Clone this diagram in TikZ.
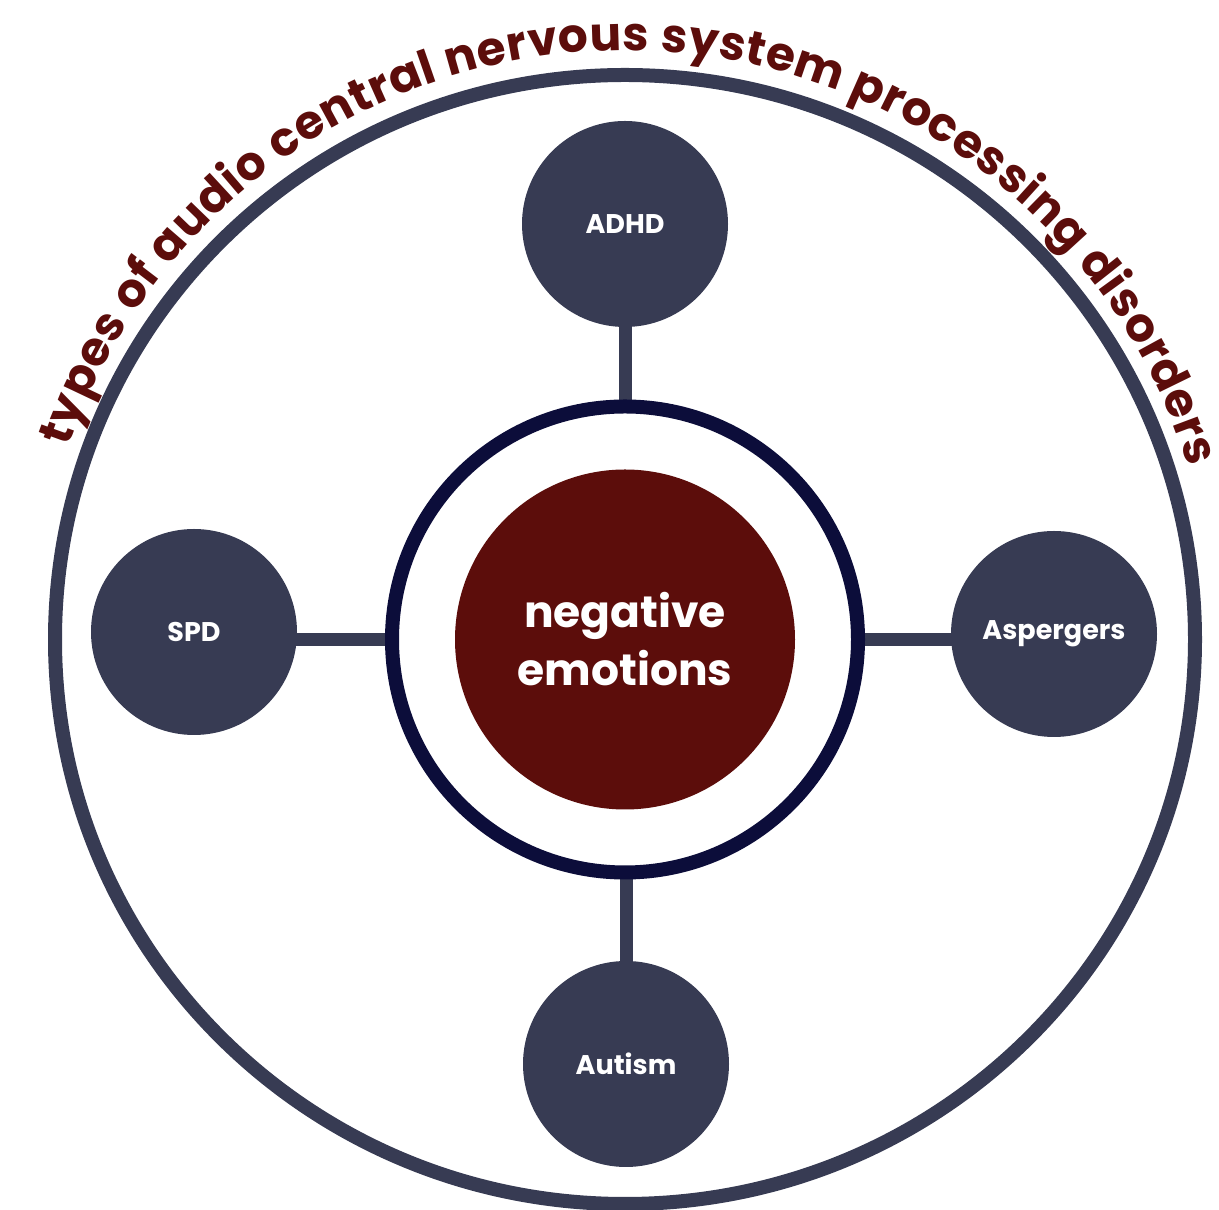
\documentclass[tikz,border=0pt]{standalone}
\usepackage{fontspec}
\setmainfont{Poppins}
\usetikzlibrary{decorations.text}
\definecolor{navy}{HTML}{373B53}
\definecolor{ringblue}{HTML}{0C0D3A}
\definecolor{darkred}{HTML}{5C0D0B}
\pgfdeclarelayer{bg}
\pgfsetlayers{bg,main}
\begin{document}
\begin{tikzpicture}[x=1pt,y=1pt,
  sat/.style={circle,fill=navy,minimum size=206pt,inner sep=0pt,text=white,font=\fontsize{27}{30}\selectfont\bfseries},
  conn/.style={draw=navy,line width=13pt},
  ringst/.style={circle,draw=ringblue,fill=white,line width=14pt,minimum size=466pt,inner sep=0pt},
  core/.style={circle,fill=darkred,minimum size=340pt,inner sep=0pt,text=white,align=center,font=\fontsize{44}{58}\selectfont\bfseries}]
\useasboundingbox (0,0) rectangle (1219,1210);
\coordinate (c) at (625,570.5);
\draw[navy,line width=14pt] (c) ellipse[x radius=570,y radius=564.5];
\node[ringst] (ring) at (c) {};
\node[core] (core) at (c) {negative\\emotions};
\node[sat] (adhd) at (625,986) {ADHD};
\node[sat] (spd) at (194,578) {SPD};
\node[sat] (asp) at (1054,576) {Aspergers};
\node[sat] (aut) at (626,146) {Autism};
\begin{pgfonlayer}{bg}
\draw[conn] (ring.center) -- (adhd.center);
\draw[conn] (ring.center) -- (ring.center -| spd.center);
\draw[conn] (ring.center) -- (ring.center -| asp.center);
\draw[conn] (aut.center |- ring.center) -- (aut.center);
\end{pgfonlayer}
\path[decorate,decoration={text along path,text align=fit to path,
  text={|\fontsize{47}{47}\selectfont\bfseries\color{darkred}|types of audio central nervous system processing disorders}}]
  (c) ++(161:589) arc[start angle=161,end angle=17,radius=589];
\end{tikzpicture}
\end{document}
